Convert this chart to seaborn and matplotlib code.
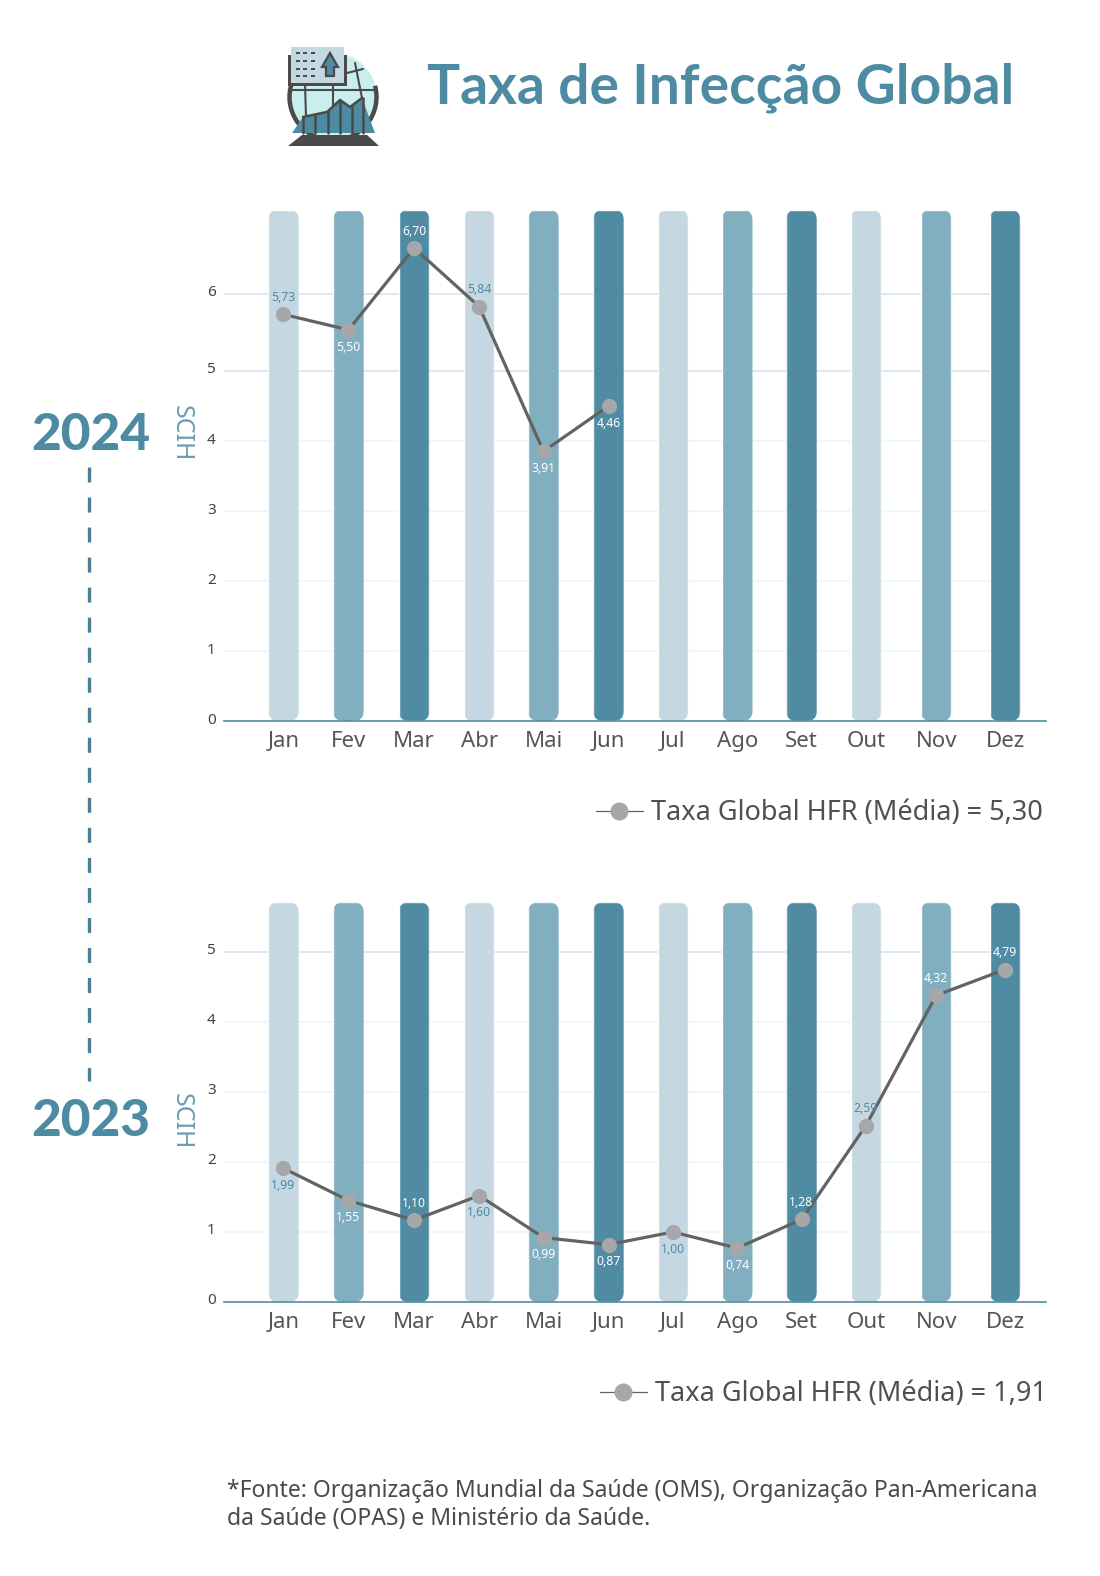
import matplotlib
matplotlib.use("Agg")
import matplotlib.pyplot as plt
import seaborn as sns
import pandas as pd
from matplotlib.lines import Line2D
from matplotlib.patches import Arc, Circle, FancyBboxPatch, Polygon, Rectangle
from matplotlib.transforms import ScaledTranslation

months = ["Jan", "Fev", "Mar", "Abr", "Mai", "Jun", "Jul", "Ago", "Set", "Out", "Nov", "Dez"]
# months are not evenly spaced in the original
month_pos = [0, 1, 2.01, 3.01, 4, 5, 5.99, 6.98, 7.97, 8.96, 10.04, 11.1]

# marker heights as drawn; the printed labels do not always agree with them
values_2024 = [5.76, 5.54, 6.70, 5.87, 3.82, 4.46]
labels_2024 = ["5,73", "5,50", "6,70", "5,84", "3,91", "4,46"]
above_2024 = [True, False, True, True, False, False]
bars_2024 = [7.24] * 12
ticks_2024 = [0, 0.99, 1.98, 2.97, 3.96, 4.96, 6.05]
tick_labels_2024 = ["0", "1", "2", "3", "4", "5", "6"]

values_2023 = [1.91, 1.45, 1.17, 1.52, 0.92, 0.82, 1.00, 0.77, 1.18, 2.52, 4.38, 4.75]
labels_2023 = ["1,99", "1,55", "1,10", "1,60", "0,99", "0,87", "1,00", "0,74", "1,28", "2,59", "4,32", "4,79"]
above_2023 = [False, False, True, False, False, False, False, False, True, True, True, True]
bars_2023 = [5.71] * 12
ticks_2023 = [0, 1, 2, 3, 4, 5]
tick_labels_2023 = ["0", "1", "2", "3", "4", "5"]

LIGHT, MID, DARK = "#c5d8e2", "#81afc0", "#4f8ca3"
TITLE = "#4d8ba3"
bar_colors = [LIGHT, MID, DARK] * 4
SANS = ["Noto Sans", "DejaVu Sans"]

W, H = 1100, 1576
PX_X = 65.0

sns.set_style("white")
plt.rcParams["font.family"] = SANS

fig = plt.figure(figsize=(11, 15.76), dpi=100, facecolor="white")


def year_panel(top, bottom, px_y, values, labels, above, bars, ticks, tick_labels, grid_colors, legend_text, legend_x, legend_y):
    ax = fig.add_axes([224 / W, 1 - bottom / H, (1046 - 224) / W, (bottom - top) / H])
    df = pd.DataFrame({"pos": month_pos, "month": months, "bar": bars})
    sns.barplot(data=df, x="pos", y="bar", hue="month", palette=bar_colors, native_scale=True,
                dodge=False, width=0.475, legend=False, saturation=1, ax=ax, zorder=2)
    ax.set_xlim(-0.915, 11.73)
    ax.set_ylim(0, (bottom - top) / px_y)

    # rounded bar ends
    for bar in ax.patches:
        clip = FancyBboxPatch((bar.get_x(), bar.get_y()), bar.get_width(), bar.get_height(),
                              boxstyle=f"round,pad=0,rounding_size={10 / PX_X}",
                              mutation_aspect=PX_X / px_y, transform=ax.transData)
        bar.set_clip_path(clip)

    ax.hlines(ticks[1:], -0.915, 11.33, colors=grid_colors, lw=1.1, zorder=1)

    sns.lineplot(x=month_pos[:len(values)], y=values, color="#636363", lw=2.3, marker="o", ms=11,
                 mfc="#a6a7a9", mec="#a6a7a9", mew=0, ax=ax, zorder=4, errorbar=None)

    for i, txt in enumerate(labels):
        shade = bar_colors[i]
        ax.annotate(txt, (month_pos[i], values[i]), xytext=(0, 12 if above[i] else -12.5),
                    textcoords="offset points", ha="center", va="center", fontsize=8.8,
                    color=TITLE if shade == LIGHT else "white", zorder=5)

    sns.despine(ax=ax, left=True, top=True, right=True)
    ax.spines["bottom"].set_color(DARK)
    ax.spines["bottom"].set_linewidth(1.2)
    ax.spines["bottom"].set_zorder(6)
    ax.patch.set_alpha(0)

    ax.set_xticks(month_pos)
    ax.set_xticklabels(months, fontsize=16, fontweight="light", color="#555555")
    ax.set_yticks(ticks)
    ax.set_yticklabels(tick_labels, fontsize=11, color="#444444")
    ax.tick_params(axis="x", length=0, pad=7)
    ax.tick_params(axis="y", length=0, pad=6)
    for lab in ax.get_yticklabels():
        lab.set_transform(lab.get_transform() + ScaledTranslation(0, 3 / 100, fig.dpi_scale_trans))
    ax.set_xlabel("")
    ax.set_ylabel("")

    handle = Line2D([], [], color="#636363", lw=0.9, marker="o", ms=13, mfc="#a6a7a9", mec="#a6a7a9", mew=0)
    ax.legend(handles=[handle], labels=[legend_text], loc="center right", frameon=False,
              bbox_to_anchor=(legend_x / W, 1 - legend_y / H),
              bbox_transform=fig.transFigure, labelcolor="#505050",
              prop={"size": 19.5, "weight": "light", "family": SANS},
              handlelength=1.75, handletextpad=0.3, borderpad=0, borderaxespad=0)
    return ax


year_panel(205, 721, 70.6, values_2024, labels_2024, above_2024, bars_2024, ticks_2024, tick_labels_2024,
           ["#eef4f6", "#eef4f6", "#eef4f6", "#eef4f6", "#d5e2e9", "#d5e2e9"],
           "Taxa Global HFR (Média) = 5,30", 1043, 813)
year_panel(896, 1302, 70.0, values_2023, labels_2023, above_2023, bars_2023, ticks_2023, tick_labels_2023,
           ["#eef4f6", "#eef4f6", "#eef4f6", "#eef4f6", "#d5e2e9"],
           "Taxa Global HFR (Média) = 1,91", 1047, 1394)

# overlay in pixel coordinates for the decoration
over = fig.add_axes([0, 0, 1, 1], zorder=10)
over.set_xlim(0, W)
over.set_ylim(H, 0)
over.axis("off")
over.patch.set_alpha(0)

over.text(427, 88, "Taxa de Infecção Global", fontsize=39.7, fontweight="bold", color=TITLE,
          family="Lato", ha="left", va="center")

for label, y, scih_y in [("2024", 435, 433), ("2023", 1121, 1121)]:
    over.text(90.5, y, label, fontsize=37, fontweight="black", color=TITLE, family="Lato", ha="center", va="center")
    over.text(181, scih_y, "SCIH", fontsize=18, fontweight="light", color="#6b9fb3", rotation=-90,
              ha="center", va="center")

over.plot([88.5, 88.5], [467, 1081], color="#4c7f92", lw=2.4, dashes=(15 / 3.33, 15 / 3.33))

over.text(227, 1491, "*Fonte: Organização Mundial da Saúde (OMS), Organização Pan-Americana",
          fontsize=16.5, fontweight="light", color="#4a4a4a", ha="left", va="center")
over.text(227, 1519, "da Saúde (OPAS) e Ministério da Saúde.",
          fontsize=16.5, fontweight="light", color="#4a4a4a", ha="left", va="center")

# icon
GRAY = "#4a4a4a"
over.add_patch(Circle((333, 97), 44, fc="#c8eeee", ec="none", zorder=1))
over.add_patch(Arc((333, 97), 87, 87, theta1=-15, theta2=200, ec=GRAY, lw=3.2, zorder=2))
for xs, ys in [([290, 376], [90, 90]), ([305, 306], [84, 117]), ([333, 333], [84, 105]),
               ([347, 363], [73, 69]), ([355, 362], [63, 98])]:
    over.plot(xs, ys, color=GRAY, lw=1.5, zorder=2)
over.add_patch(Polygon([[292, 133], [303, 117], [327, 112], [340, 100], [350, 107], [362, 98], [375, 133]],
                       fc=TITLE, ec="none", zorder=3))
for x0, y0 in [(303, 117), (315, 115), (328, 111), (340, 100), (352, 106), (363, 98)]:
    over.plot([x0, x0], [y0, 133], color=GRAY, lw=1.8, zorder=4)
over.plot([303, 327, 340, 350, 362], [117, 112, 100, 107, 98], color=GRAY, lw=1.8, zorder=4)
over.add_patch(Polygon([[288, 146], [302, 135], [367, 135], [379, 146]], fc=GRAY, ec="none", zorder=5))
over.add_patch(Rectangle((288, 55), 59, 31, fc=GRAY, ec="none", zorder=6))
over.add_patch(Rectangle((291, 47), 53, 36, fc="#c4d8e2", ec="none", zorder=6))
for xr in [296, 303, 311]:
    for yr in [53, 61, 69, 76]:
        over.add_patch(Rectangle((xr, yr - 1), 4, 2.4, fc=GRAY, ec="none", zorder=7))
over.add_patch(Polygon([[330, 53], [338, 67], [334, 67], [334, 76], [326, 76], [326, 67], [322, 67]],
                       fc=TITLE, ec=GRAY, lw=1.6, zorder=7))

fig.savefig("out.png", dpi=100, facecolor="white")
